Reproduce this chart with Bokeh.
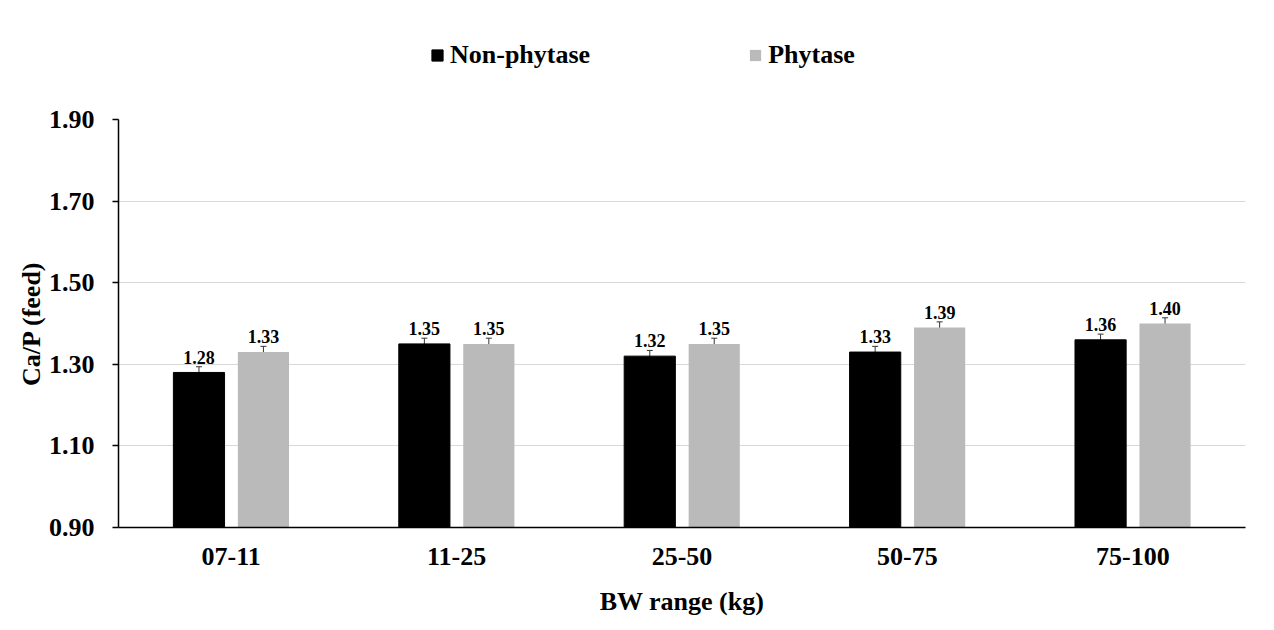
from bokeh.plotting import figure
from bokeh.layouts import column
from bokeh.models import (ColumnDataSource, FactorRange, Legend, LegendItem, Whisker, TeeHead,
                          LabelSet, NumeralTickFormatter, FixedTicker, Range1d)
from bokeh.transform import dodge
from bokeh.embed import file_html
from bokeh.resources import INLINE

categories = ["07-11", "11-25", "25-50", "50-75", "75-100"]
non_phytase = [1.28, 1.35, 1.32, 1.33, 1.36]
phytase = [1.33, 1.35, 1.35, 1.39, 1.40]
non_phytase_err = [0.014, 0.014, 0.014, 0.014, 0.014]
phytase_err = [0.014, 0.014, 0.014, 0.014, 0.014]
y_ticks = [0.9, 1.1, 1.3, 1.5, 1.7, 1.9]
series_names = ["Non-phytase", "Phytase"]

FONT = "Liberation Serif"
C1 = "black"
C2 = "#bababa"

def mk(vals, errs):
    return ColumnDataSource(dict(
        cat=categories, val=vals,
        lo=[v - e for v, e in zip(vals, errs)],
        hi=[v + e for v, e in zip(vals, errs)],
        lab=["%.2f" % v for v in vals],
    ))

s1 = mk(non_phytase, non_phytase_err)
s2 = mk(phytase, phytase_err)

# ---- legend strip (legend proxies lie outside the visible range) ----
top = figure(width=1274, height=99, output_backend="svg", toolbar_location=None,
             x_axis_location=None, y_axis_location=None, x_range=Range1d(0, 1), y_range=Range1d(0, 1),
             min_border=0)
top.outline_line_color = None
top.xgrid.grid_line_color = None
top.ygrid.grid_line_color = None
proxy = ColumnDataSource(dict(x=[-5], t=[-5]))
lr1 = top.vbar(x="x", top="t", width=0.1, source=proxy, fill_color=C1, line_color=C1)
lr2 = top.vbar(x="x", top="t", width=0.1, source=proxy, fill_color=C2, line_color=None)
legend = Legend(items=[LegendItem(label=series_names[0], renderers=[lr1]),
                       LegendItem(label=series_names[1], renderers=[lr2])],
                orientation="horizontal", location=(312, 29),
                label_text_font=FONT, label_text_font_style="bold", label_text_font_size="26px",
                label_text_color="black", label_height=26,
                glyph_width=14, glyph_height=14, spacing=158, label_standoff=6,
                border_line_color=None, background_fill_alpha=0, margin=0, padding=0)
top.add_layout(legend, "center")

# ---- main chart ----
p = figure(x_range=FactorRange(*categories), y_range=(0.9, 1.9), width=1274, height=531,
           output_backend="svg", toolbar_location=None,
           min_border_left=118, min_border_right=29, min_border_bottom=103, min_border_top=20)
p.outline_line_color = None

off = 0.143
bw = 0.227
r1 = p.vbar(x=dodge("cat", -off, range=p.x_range), top="val", bottom=0.9, width=bw, source=s1,
            fill_color=C1, line_color=C1)
r2 = p.vbar(x=dodge("cat", off, range=p.x_range), top="val", bottom=0.9, width=bw, source=s2,
            fill_color=C2, line_color=None)

for s, o in ((s1, -off), (s2, off)):
    w = Whisker(base=dodge("cat", o, range=p.x_range), lower="lo", upper="hi", source=s,
                line_color="#333333", line_width=1,
                upper_head=TeeHead(size=6, line_color="#333333", line_width=1),
                lower_head=TeeHead(size=6, line_color="#333333", line_width=1))
    p.add_layout(w)
    lbl = LabelSet(x=dodge("cat", o, range=p.x_range), y="hi", text="lab", source=s,
                   text_align="center", text_baseline="bottom", y_offset=3,
                   text_font=FONT, text_font_style="bold", text_font_size="18px", text_color="black")
    p.add_layout(lbl)

p.yaxis.ticker = FixedTicker(ticks=y_ticks)
p.yaxis.formatter = NumeralTickFormatter(format="0.00")
p.yaxis.major_tick_out = 6
p.yaxis.major_tick_in = 0
p.yaxis.minor_tick_line_color = None
p.yaxis.axis_line_color = "black"
p.yaxis.axis_line_width = 1.5
p.yaxis.major_tick_line_width = 1.5
p.yaxis.axis_label = "Ca/P (feed)"
p.xaxis.axis_label = "BW range (kg)"
p.xaxis.major_tick_line_color = None
p.xaxis.minor_tick_line_color = None
p.xaxis.axis_line_color = "black"
p.xaxis.axis_line_width = 1.5
for ax in (p.xaxis, p.yaxis):
    ax.major_label_text_font = FONT
    ax.major_label_text_font_style = "bold"
    ax.major_label_text_font_size = "26px"
    ax.major_label_text_color = "black"
    ax.axis_label_text_font = FONT
    ax.axis_label_text_font_style = "bold"
    ax.axis_label_text_font_size = "26px"
    ax.axis_label_text_color = "black"
p.xaxis.major_label_standoff = 14
p.xaxis.axis_label_standoff = 19
p.yaxis.major_label_standoff = 18
p.yaxis.axis_label_standoff = 0

p.xgrid.grid_line_color = None
p.ygrid.grid_line_color = "#d9d9d9"
p.ygrid.ticker = FixedTicker(ticks=y_ticks)

layout = column(top, p, spacing=0)
open("out.html", "w").write(file_html(layout, INLINE))
